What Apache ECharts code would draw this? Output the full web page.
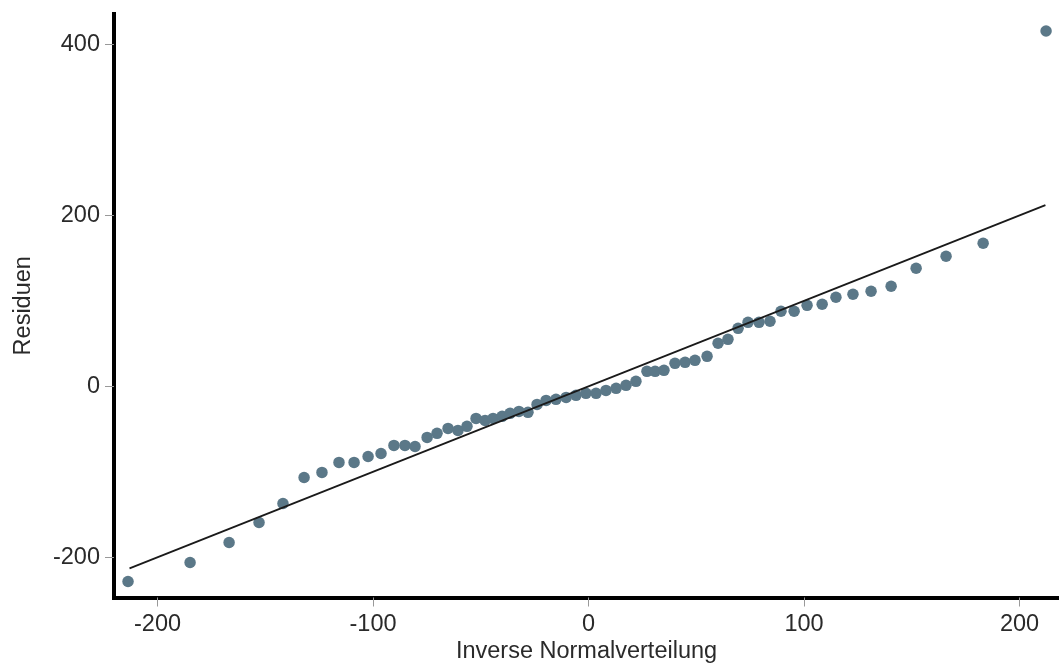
<!DOCTYPE html>
<html>
<head>
<meta charset="utf-8">
<style>
  html, body { margin: 0; padding: 0; background: #ffffff; }
  #chart { width: 1059px; height: 664px; }
</style>
<script src="https://cdn.jsdelivr.net/npm/echarts@6/dist/echarts.min.js"></script>
</head>
<body>
<div id="chart"></div>
<script>
// Inverse normal quantiles (x) and residuals (y)
var inverseNormal = [
  -213.7, -184.9, -166.8, -152.9, -141.8, -132.0, -123.7, -115.8, -108.8, -102.3,
  -96.3, -90.3, -85.2, -80.5, -74.9, -70.3, -65.2, -60.6, -56.4, -52.2,
  -48.0, -44.3, -40.1, -36.4, -32.3, -28.1, -23.9, -19.7, -15.1, -10.4,
  -5.8, -1.2, 3.5, 8.1, 12.8, 17.4, 22.0, 27.1, 30.9, 35.0,
  40.1, 44.8, 49.4, 55.0, 60.1, 64.7, 69.4, 74.0, 79.1, 84.2,
  89.3, 95.4, 101.4, 108.4, 114.8, 122.7, 131.1, 140.4, 152.0, 165.9,
  183.1, 212.3
];
var residuals = [
  -228.3, -206.1, -182.7, -159.3, -137.1, -106.6, -100.7, -89.0, -89.0, -82.0,
  -78.5, -69.1, -69.1, -70.3, -59.7, -55.0, -49.2, -51.5, -46.8, -37.5,
  -39.8, -37.5, -35.1, -31.6, -29.3, -30.4, -21.1, -16.4, -15.2, -12.9,
  -10.5, -8.2, -8.2, -4.7, -2.3, 1.2, 5.9, 17.6, 17.6, 18.7,
  26.9, 28.1, 30.4, 35.1, 50.4, 55.0, 67.9, 74.9, 74.9, 76.1,
  87.8, 87.8, 94.8, 96.0, 104.2, 107.7, 111.2, 117.1, 138.2, 152.2,
  167.4, 415.7
];
// Reference line y = x
var refLineX = [-213, 212];
var refLineY = [-213, 212];
// Tick labels
var xTicks = [-200, -100, 0, 100, 200];
var yTicks = [-200, 0, 200, 400];

var pts = inverseNormal.map(function (x, i) { return [x, residuals[i]]; });
var linePts = refLineX.map(function (x, i) { return [x, refLineY[i]]; });

var fontFam = "'Liberation Sans', Arial, sans-serif";
var txtColor = '#2a2a2a';
var fs = 23.5;
var chart = echarts.init(document.getElementById('chart'), null, { renderer: 'canvas' });
chart.setOption({
  backgroundColor: '#ffffff',
  animation: false,
  grid: { left: 114, right: 0, top: 14, bottom: 66.5, containLabel: false, outerBoundsMode: 'none' },
  xAxis: {
    type: 'value',
    min: -220.2,
    max: 218.3,
    name: 'Inverse Normalverteilung',
    nameLocation: 'middle',
    nameGap: 42,
    nameMoveOverlap: false,
    nameTextStyle: { fontSize: fs, color: txtColor, fontFamily: fontFam },
    axisLine: { show: true, onZero: false, lineStyle: { color: '#000', width: 4, cap: 'square' } },
    axisTick: { show: true, customValues: xTicks, length: 9, lineStyle: { color: '#999', width: 1 } },
    axisLabel: { customValues: xTicks, fontSize: fs, color: txtColor, margin: 15, fontFamily: fontFam },
    splitLine: { show: false }
  },
  yAxis: {
    type: 'value',
    min: -247,
    max: 435.6,
    name: 'Residuen',
    nameLocation: 'middle',
    nameGap: 78,
    nameMoveOverlap: false,
    nameTextStyle: { fontSize: fs, color: txtColor, fontFamily: fontFam },
    axisLine: { show: true, onZero: false, lineStyle: { color: '#000', width: 4, cap: 'square' } },
    axisTick: { show: true, customValues: yTicks, length: 9, lineStyle: { color: '#999', width: 1 } },
    axisLabel: { customValues: yTicks, fontSize: fs, color: txtColor, margin: 14, fontFamily: fontFam, padding: [6, 0, 0, 0] },
    splitLine: { show: false }
  },
  series: [
    {
      type: 'scatter',
      data: pts,
      symbol: 'circle',
      symbolSize: 11.5,
      itemStyle: { color: '#5b7888', opacity: 1 },
      z: 2,
      silent: true
    },
    {
      type: 'line',
      data: linePts,
      symbol: 'none',
      lineStyle: { color: '#1a1a1a', width: 1.8 },
      z: 3,
      silent: true
    }
  ]
});
</script>
</body>
</html>
